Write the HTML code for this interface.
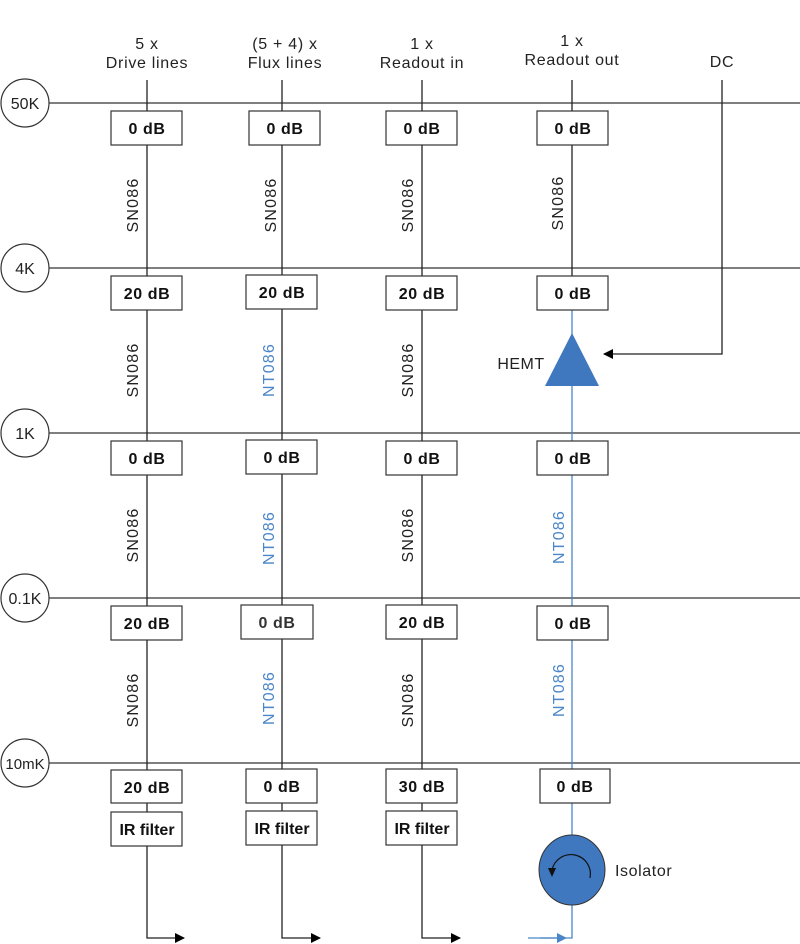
<!DOCTYPE html>
<html><head><meta charset="utf-8"><style>
html,body{margin:0;padding:0;background:#fff;}
svg{display:block;font-family:"Liberation Sans",sans-serif;}
.b{font-weight:bold;font-size:16px;letter-spacing:0.6px;}
</style></head><body>
<svg width="800" height="944" viewBox="0 0 800 944" xmlns="http://www.w3.org/2000/svg">
<defs>
<marker id="ak" markerWidth="10" markerHeight="10" refX="9" refY="5" orient="auto" markerUnits="userSpaceOnUse"><path d="M0,0 L10,5 L0,10 z" fill="#000"/></marker>
<marker id="ab" markerWidth="10" markerHeight="10" refX="5" refY="5" orient="auto" markerUnits="userSpaceOnUse"><path d="M0,0 L10,5 L0,10 z" fill="#4a86c8"/></marker>
</defs>
<g fill="#222" font-size="16" letter-spacing="0.7" text-anchor="middle">
<text x="147" y="49">5 x</text><text x="147" y="68">Drive lines</text>
<text x="285" y="49">(5 + 4) x</text><text x="285" y="68">Flux lines</text>
<text x="422" y="49">1 x</text><text x="422" y="68">Readout in</text>
<text x="572" y="46">1 x</text><text x="572" y="65">Readout out</text>
<text x="722" y="67">DC</text>
</g>
<g stroke="#333" stroke-width="1.3">
<line x1="49" y1="103" x2="800" y2="103"/><line x1="49" y1="268" x2="800" y2="268"/>
<line x1="49" y1="433" x2="800" y2="433"/><line x1="49" y1="598" x2="800" y2="598"/>
<line x1="49" y1="763" x2="800" y2="763"/>
</g>
<g fill="#fff" stroke="#333" stroke-width="1.2">
<circle cx="25" cy="103" r="24"/><circle cx="25" cy="268" r="24"/><circle cx="25" cy="433" r="24"/><circle cx="25" cy="598" r="24"/><circle cx="25" cy="763" r="24"/>
</g>
<g font-size="16" text-anchor="middle" fill="#222">
<text x="25" y="109">50K</text><text x="25" y="274">4K</text><text x="25" y="439">1K</text><text x="25" y="604">0.1K</text><text x="25" y="769" font-size="15">10mK</text>
</g>
<g stroke="#222" stroke-width="1.3" fill="none">
<polyline points="147,80 147,938 184,938" marker-end="url(#ak)"/>
<polyline points="282,80 282,938 320,938" marker-end="url(#ak)"/>
<polyline points="422,80 422,938 460,938" marker-end="url(#ak)"/>
<line x1="572" y1="80" x2="572" y2="276"/>
<polyline points="722,80 722,354 604,354" marker-end="url(#ak)"/>
</g>
<g stroke="#4a86c8" stroke-width="1.3" fill="none">
<polyline points="528,938 572,938 572,310"/>
<line x1="540" y1="938" x2="562" y2="938" marker-end="url(#ab)"/>
</g>
<polygon points="572,333 545,386 599,386" fill="#3f78bf"/>
<text x="521" y="369" font-size="16" letter-spacing="0.5" text-anchor="middle" fill="#222">HEMT</text>
<ellipse cx="572" cy="870" rx="33" ry="35" fill="#3f78bf" stroke="#333" stroke-width="1"/>
<path d="M590,878 A18,18 0 1 0 552,870" fill="none" stroke="#111" stroke-width="1.2"/>
<path d="M548,868 L556,868 L552,877 z" fill="#111"/>
<text x="615" y="876" font-size="16" letter-spacing="0.6" fill="#222">Isolator</text>
<g fill="#fff" stroke="#333" stroke-width="1.2">
<rect x="111" y="111" width="71" height="34"/><rect x="249" y="111" width="71" height="34"/><rect x="386" y="111" width="71" height="34"/><rect x="537" y="111" width="71" height="34"/>
<rect x="111" y="276" width="71" height="34"/><rect x="246" y="275" width="71" height="34"/><rect x="386" y="276" width="71" height="34"/><rect x="537" y="276" width="71" height="34"/>
<rect x="111" y="441" width="71" height="34"/><rect x="246" y="440" width="71" height="34"/><rect x="386" y="441" width="71" height="34"/><rect x="537" y="441" width="71" height="34"/>
<rect x="111" y="606" width="71" height="34"/><rect x="241" y="605" width="72" height="34"/><rect x="386" y="605" width="71" height="34"/><rect x="537" y="606" width="71" height="34"/>
<rect x="111" y="770" width="71" height="33"/><rect x="246" y="769" width="71" height="34"/><rect x="386" y="769" width="71" height="34"/><rect x="540" y="769" width="70" height="34"/>
<rect x="111" y="812" width="71" height="34"/><rect x="246" y="811" width="71" height="34"/><rect x="386" y="811" width="71" height="34"/>
</g>
<g class="b" text-anchor="middle" fill="#111">
<text x="147" y="134">0 dB</text><text x="285" y="134">0 dB</text><text x="422" y="134">0 dB</text><text x="573" y="134">0 dB</text>
<text x="147" y="299">20 dB</text><text x="282" y="298">20 dB</text><text x="422" y="299">20 dB</text><text x="573" y="299">0 dB</text>
<text x="147" y="464">0 dB</text><text x="282" y="463">0 dB</text><text x="422" y="464">0 dB</text><text x="573" y="464">0 dB</text>
<text x="147" y="629">20 dB</text><text x="277" y="628" fill="#333">0 dB</text><text x="422" y="628">20 dB</text><text x="573" y="629">0 dB</text>
<text x="147" y="793">20 dB</text><text x="282" y="792">0 dB</text><text x="422" y="792">30 dB</text><text x="575" y="792">0 dB</text>
<text x="147" y="835" letter-spacing="0">IR filter</text><text x="282" y="834" letter-spacing="0">IR filter</text><text x="422" y="834" letter-spacing="0">IR filter</text>
</g>
<g font-size="16" letter-spacing="1.2" text-anchor="middle" fill="#222">
<text transform="translate(138,205) rotate(-90)">SN086</text>
<text transform="translate(276,205) rotate(-90)">SN086</text>
<text transform="translate(413,205) rotate(-90)">SN086</text>
<text transform="translate(563,203) rotate(-90)">SN086</text>
<text transform="translate(138,370) rotate(-90)">SN086</text>
<text transform="translate(413,370) rotate(-90)">SN086</text>
<text transform="translate(138,535) rotate(-90)">SN086</text>
<text transform="translate(413,535) rotate(-90)">SN086</text>
<text transform="translate(138,700) rotate(-90)">SN086</text>
<text transform="translate(413,700) rotate(-90)">SN086</text>
</g>
<g font-size="16" letter-spacing="1.2" text-anchor="middle" fill="#4a86c8">
<text transform="translate(274,370) rotate(-90)">NT086</text>
<text transform="translate(274,538) rotate(-90)">NT086</text>
<text transform="translate(274,698) rotate(-90)">NT086</text>
<text transform="translate(564,537) rotate(-90)">NT086</text>
<text transform="translate(564,690) rotate(-90)">NT086</text>
</g>
</svg>
</body></html>
